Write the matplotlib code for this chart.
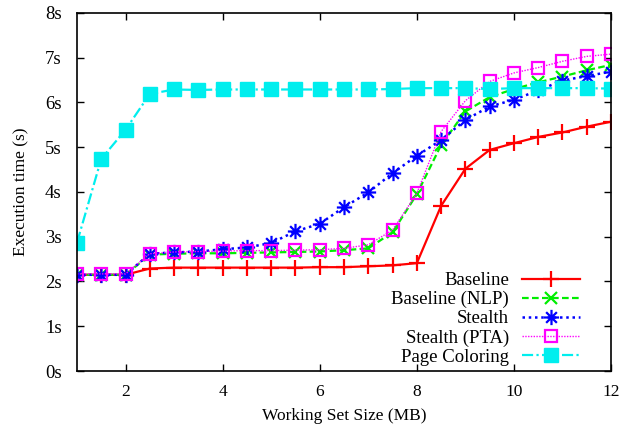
import matplotlib
matplotlib.use("Agg")
import matplotlib.pyplot as plt
from matplotlib.path import Path

x = [1, 1.5, 2, 2.5, 3, 3.5, 4, 4.5, 5, 5.5, 6, 6.5, 7, 7.5, 8, 8.5, 9, 9.5, 10, 10.5, 11, 11.5, 12]

baseline = [2.15, 2.15, 2.15, 2.29, 2.31, 2.31, 2.31, 2.31, 2.31, 2.31, 2.32, 2.32, 2.34, 2.36, 2.41,
            3.69, 4.52, 4.94, 5.09, 5.23, 5.33, 5.46, 5.57]
baseline_nlp = [2.15, 2.15, 2.15, 2.6, 2.62, 2.63, 2.63, 2.64, 2.65, 2.66, 2.67, 2.7, 2.74, 3.1, 3.95,
                5.05, 5.8, 6.12, 6.3, 6.45, 6.58, 6.72, 6.84]
stealth = [2.15, 2.15, 2.15, 2.62, 2.65, 2.67, 2.72, 2.76, 2.86, 3.12, 3.29, 3.66, 3.99, 4.42, 4.81,
           5.16, 5.61, 5.91, 6.06, 6.27, 6.49, 6.59, 6.69]
stealth_pta = [2.17, 2.17, 2.17, 2.62, 2.66, 2.67, 2.68, 2.69, 2.69, 2.7, 2.71, 2.74, 2.82, 3.15, 3.97,
               5.35, 6.04, 6.47, 6.66, 6.78, 6.92, 7.03, 7.08]
page_coloring = [2.87, 4.74, 5.39, 6.19, 6.29, 6.28, 6.29, 6.29, 6.29, 6.29, 6.29, 6.29, 6.29, 6.3, 6.32,
                 6.32, 6.32, 6.3, 6.32, 6.32, 6.32, 6.32, 6.31]

xticks = [2, 4, 6, 8, 10, 12]
yticks = [0, 1, 2, 3, 4, 5, 6, 7, 8]
ytick_labels = ["0s", "1s", "2s", "3s", "4s", "5s", "6s", "7s", "8s"]

plt.rcParams['font.family'] = ['Liberation Serif', 'DejaVu Serif']
plt.rcParams['font.size'] = 12.5

fig = plt.figure(figsize=(6.28, 4.32), dpi=100)
ax = fig.add_axes([0.1226, 0.1412, 0.8504, 0.8288])

star = Path([(-1, 0), (1, 0), (0, -1), (0, 1), (-0.7, -0.7), (0.7, 0.7), (-0.7, 0.7), (0.7, -0.7)],
            [Path.MOVETO, Path.LINETO] * 4)

ax.plot(x, baseline, color='#ff0000', lw=1.6, ls='-', marker='+', ms=11, mew=1.6, label='Baseline')
ax.plot(x, baseline_nlp, color='#00ee00', lw=1.6, ls=(0, (3, 1.5)), marker='x', ms=9, mew=1.6,
        label='Baseline (NLP)')
ax.plot(x, stealth, color='#0000ff', lw=1.8, ls=(0, (1, 1.5)), marker=star, ms=11, mew=1.6, label='Stealth')
ax.plot(x, stealth_pta, color='#ff00ff', lw=1.0, ls=(0, (1, 1)), marker='s', ms=9, mew=1.6,
        mfc='none', label='Stealth (PTA)')
ax.plot(x, page_coloring, color='#00eeee', lw=1.6, ls=(0, (5, 1.5, 1, 1.5)), marker='s', ms=10,
        label='Page Coloring')

ax.set_xlim(1, 12)
ax.set_ylim(0, 8)
ax.set_xticks(xticks)
ax.set_yticks(yticks)
ax.set_yticklabels(ytick_labels, fontsize=13.5)
ax.tick_params(axis='both', direction='in', top=True, right=True, length=5, width=1)
ax.tick_params(axis='y', pad=11)
ax.tick_params(axis='x', pad=9)
ax.set_xlabel('Working Set Size (MB)', labelpad=6)
ax.set_ylabel('Execution time (s)', labelpad=11)
for s in ax.spines.values():
    s.set_linewidth(1.2)

leg = ax.legend(loc='lower right', bbox_to_anchor=(0.955, -0.006), frameon=False, markerfirst=False,
                handlelength=3.05, labelspacing=0.1, handletextpad=0.7, borderaxespad=0.0,
                fontsize=13.5)

fig.savefig('out.png', dpi=100)
